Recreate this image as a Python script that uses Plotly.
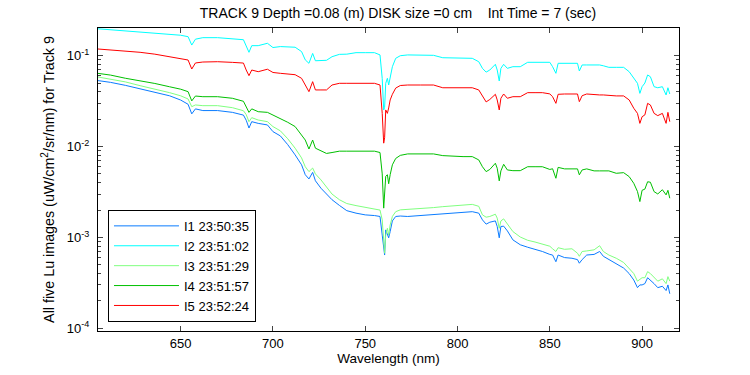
import plotly.graph_objects as go

wavelength = [
    605, 612, 620, 628, 636, 644, 650, 654, 656, 658,
    662, 670, 678, 684, 685.5, 687, 688.5, 692, 697, 700,
    704, 708, 712, 715.5, 717.5, 719.5, 721.5, 723, 726, 729,
    732, 736, 740, 745, 750, 755, 758, 759.2, 760, 760.5,
    761.1, 762, 762.7, 763.5, 764.7, 766.5, 769, 773, 780, 787,
    792, 798, 803, 808, 811.5, 813.5, 815.5, 817.5, 820.5, 821.5,
    822.6, 823.5, 825, 827, 830, 834, 838, 842, 846, 850,
    851.5, 853.3, 854.5, 858, 862, 865, 866, 867.5, 870, 874,
    877, 879, 882, 886, 890, 893, 895.5, 897.5, 898.8, 900,
    901.5, 903, 904.5, 906.5, 908.5, 911, 913, 914, 915,
]

lu_i1 = [
    0.0533, 0.0509, 0.0472, 0.0432, 0.0398, 0.0362, 0.0325, 0.0292, 0.0229, 0.026,
    0.0249, 0.0249, 0.0238, 0.0222, 0.0195, 0.0160, 0.0188, 0.018, 0.0173, 0.0146,
    0.0131, 0.0105, 0.0081, 0.0063, 0.0049, 0.0044, 0.0052, 0.0042, 0.00348, 0.0030,
    0.0026, 0.00225, 0.00197, 0.00185, 0.00177, 0.00174, 0.00170, 0.00106, 0.00072, 0.00064,
    0.00121, 0.00107, 0.00099, 0.00116, 0.00152, 0.0017, 0.00172, 0.0017, 0.00174, 0.00177,
    0.0018, 0.00185, 0.00189, 0.00192, 0.00185, 0.00156, 0.0014, 0.00147, 0.00152, 0.00132,
    0.00099, 0.00132, 0.00133, 0.00118, 0.00094, 0.00083, 0.00078, 0.00074, 0.0007, 0.00065,
    0.00064, 0.00054, 0.00064, 0.0006, 0.00059, 0.00057, 0.00052, 0.00057, 0.00064, 0.00065,
    0.0007, 0.00062, 0.00057, 0.00052, 0.00046, 0.0004, 0.00034, 0.00028, 0.0003, 0.0003,
    0.00031, 0.00036, 0.00034, 0.00031, 0.00028, 0.00029, 0.00026, 0.0003, 0.00024,
]

lu_i2 = [
    0.198, 0.193, 0.188, 0.183, 0.178, 0.173, 0.168, 0.162, 0.131, 0.152,
    0.158, 0.158, 0.153, 0.150, 0.128, 0.109, 0.129, 0.129, 0.137, 0.123,
    0.126, 0.126, 0.124, 0.111, 0.090, 0.0825, 0.106, 0.088, 0.088, 0.089,
    0.0975, 0.1035, 0.104, 0.108, 0.108, 0.108, 0.102, 0.056, 0.0253, 0.027,
    0.0497, 0.0564, 0.0476, 0.058, 0.0757, 0.0936, 0.100, 0.102, 0.102, 0.101,
    0.095, 0.095, 0.0936, 0.0936, 0.0859, 0.0726, 0.066, 0.0696, 0.0804, 0.0696,
    0.0527, 0.0726, 0.0804, 0.0726, 0.0757, 0.0757, 0.0846, 0.0846, 0.0846, 0.0846,
    0.0757, 0.064, 0.0825, 0.0825, 0.0825, 0.0825, 0.0679, 0.0791, 0.0791, 0.0791,
    0.0791, 0.0775, 0.0745, 0.0745, 0.0745, 0.0667, 0.0564, 0.0497, 0.0385, 0.0456,
    0.050, 0.0614, 0.0587, 0.0456, 0.0444, 0.0456, 0.037, 0.0444, 0.0379,
]

lu_i3 = [
    0.0584, 0.055, 0.0515, 0.0468, 0.0432, 0.0392, 0.0362, 0.0334, 0.0275, 0.0287,
    0.0282, 0.0282, 0.0268, 0.0248, 0.0225, 0.0188, 0.0208, 0.0196, 0.0188, 0.0166,
    0.0149, 0.0122, 0.0096, 0.0075, 0.0060, 0.0053, 0.0058, 0.0050, 0.0043, 0.0036,
    0.0030, 0.0026, 0.00236, 0.00224, 0.00213, 0.00206, 0.0020, 0.00156, 0.00086, 0.00067,
    0.00106, 0.00126, 0.00106, 0.00137, 0.0017, 0.00192, 0.00201, 0.00203, 0.00206, 0.00213,
    0.00218, 0.00224, 0.00228, 0.00231, 0.0022, 0.00177, 0.00167, 0.0017, 0.0018, 0.00163,
    0.00126, 0.00152, 0.0016, 0.0014, 0.00116, 0.00101, 0.00093, 0.00089, 0.00085, 0.0008,
    0.00075, 0.0007, 0.00077, 0.00074, 0.00075, 0.00067, 0.00062, 0.0007, 0.00071, 0.00073,
    0.00081, 0.0007, 0.00064, 0.00059, 0.00053, 0.00046, 0.0004, 0.00033, 0.00035, 0.00036,
    0.00036, 0.00042, 0.0004, 0.00036, 0.00033, 0.00035, 0.00031, 0.00037, 0.00033,
]

lu_i4 = [
    0.064, 0.0612, 0.0565, 0.0530, 0.0495, 0.0455, 0.0428, 0.0402, 0.0318, 0.036,
    0.0354, 0.0354, 0.034, 0.0315, 0.0275, 0.0238, 0.026, 0.0242, 0.0238, 0.0223,
    0.0203, 0.0185, 0.0166, 0.0134, 0.0118, 0.0094, 0.0118, 0.0096, 0.0089, 0.0084,
    0.0086, 0.0089, 0.0089, 0.0089, 0.0089, 0.0089, 0.0086, 0.0050, 0.0021, 0.0031,
    0.0047, 0.0049, 0.0039, 0.0049, 0.0063, 0.0074, 0.0080, 0.0083, 0.0083, 0.0083,
    0.00795, 0.0078, 0.00775, 0.00775, 0.00713, 0.0060, 0.0053, 0.0056, 0.00655, 0.00577,
    0.00419, 0.0054, 0.00638, 0.00553, 0.00543, 0.00543, 0.0060, 0.0060, 0.0060, 0.0056,
    0.0057, 0.00448, 0.0059, 0.00568, 0.00568, 0.00568, 0.00488, 0.00553, 0.00568, 0.0054,
    0.0054, 0.0054, 0.0054, 0.00508, 0.00516, 0.00467, 0.00394, 0.0032, 0.00248, 0.0033,
    0.0034, 0.0041, 0.00405, 0.00319, 0.00301, 0.00335, 0.00294, 0.0033, 0.0027,
]

lu_i5 = [
    0.1186, 0.116, 0.112, 0.109, 0.104, 0.098, 0.093, 0.0897, 0.0714, 0.0832,
    0.0852, 0.0859, 0.0845, 0.083, 0.0696, 0.0603, 0.0696, 0.0667, 0.071, 0.0654,
    0.064, 0.063, 0.0618, 0.0564, 0.0476, 0.0402, 0.0518, 0.042, 0.042, 0.042,
    0.0476, 0.0497, 0.0497, 0.0497, 0.0497, 0.0497, 0.0476, 0.0232, 0.0109, 0.0125,
    0.0253, 0.0232, 0.0266, 0.0326, 0.0376, 0.044, 0.047, 0.0476, 0.0476, 0.0476,
    0.0444, 0.0444, 0.0444, 0.0444, 0.042, 0.0354, 0.031, 0.033, 0.0376, 0.0326,
    0.0253, 0.034, 0.0379, 0.034, 0.0354, 0.0354, 0.0392, 0.0392, 0.0392, 0.0380,
    0.0354, 0.0299, 0.0376, 0.0379, 0.0379, 0.0379, 0.0312, 0.0363, 0.0379, 0.037,
    0.037, 0.037, 0.0365, 0.0361, 0.0361, 0.0326, 0.0264, 0.0232, 0.018, 0.0213,
    0.0223, 0.0299, 0.0287, 0.0232, 0.0219, 0.0232, 0.018, 0.0238, 0.0188,
]

series_names = ["I1 23:50:35", "I2 23:51:02", "I3 23:51:29", "I4 23:51:57", "I5 23:52:24"]
series_values = [lu_i1, lu_i2, lu_i3, lu_i4, lu_i5]
series_colors = ["#0A7CFF", "#00FFFF", "#80FF80", "#00C000", "#FF0000"]

x_ticks = [650, 700, 750, 800, 850, 900]
y_ticks = [1e-4, 1e-3, 1e-2, 1e-1]
y_ticktext = ["10<sup>-4</sup>", "10<sup>-3</sup>", "10<sup>-2</sup>", "10<sup>-1</sup>"]
y_minor = [m * 10 ** e for e in (-4, -3, -2, -1) for m in range(2, 10)]

font_family = "Arial, Liberation Sans, sans-serif"

fig = go.Figure()
for i, (name, vals, col) in enumerate(zip(series_names, series_values, series_colors)):
    fig.add_trace(go.Scatter(
        x=wavelength, y=vals, mode="lines", name=name,
        line=dict(color=col, width=1), legendgroup=f"g{i}",
    ))

fig.update_layout(
    width=750, height=375,
    margin=dict(l=98, r=71, t=28, b=44, autoexpand=False),
    paper_bgcolor="white", plot_bgcolor="white",
    font=dict(family=font_family, size=13, color="black"),
    title=dict(
        text="TRACK 9 Depth =0.08 (m) DISK size =0 cm\u00a0\u00a0\u00a0\u00a0Int Time = 7 (sec)",
        x=0.5307, xanchor="center", y=0.9653, yanchor="middle",
        font=dict(size=14, family=font_family, color="black"),
    ),
    showlegend=True,
    legend=dict(
        x=0.0172, y=0.03, xanchor="left", yanchor="bottom",
        bgcolor="white", bordercolor="black", borderwidth=1,
        font=dict(size=13, family=font_family, color="black"),
        traceorder="grouped", tracegroupgap=0, itemwidth=65,
    ),
    xaxis=dict(
        range=[605.2, 920], tickvals=x_ticks, ticks="inside", ticklen=5,
        showline=True, linecolor="black", linewidth=1, mirror="ticks",
        showgrid=False, zeroline=False,
        title=dict(text="Wavelength (nm)", standoff=3, font=dict(size=13.5)),
    ),
    yaxis=dict(
        type="log", range=[-4.03, -0.695], tickvals=y_ticks, ticktext=y_ticktext,
        ticks="inside", ticklen=5, ticklabelstandoff=5,
        showline=True, linecolor="black", linewidth=1, mirror="ticks",
        showgrid=False, zeroline=False,
        minor=dict(tickvals=y_minor, ticks="inside", ticklen=3, showgrid=False),
        title=dict(text="All five Lu images (uW/cm<sup>2</sup>/sr/nm) for Track 9",
                   standoff=8, font=dict(size=14.3)),
    ),
)

fig.write_html("out.html", config={"displayModeBar": False},
               post_script="document.body.style.margin='0';")
